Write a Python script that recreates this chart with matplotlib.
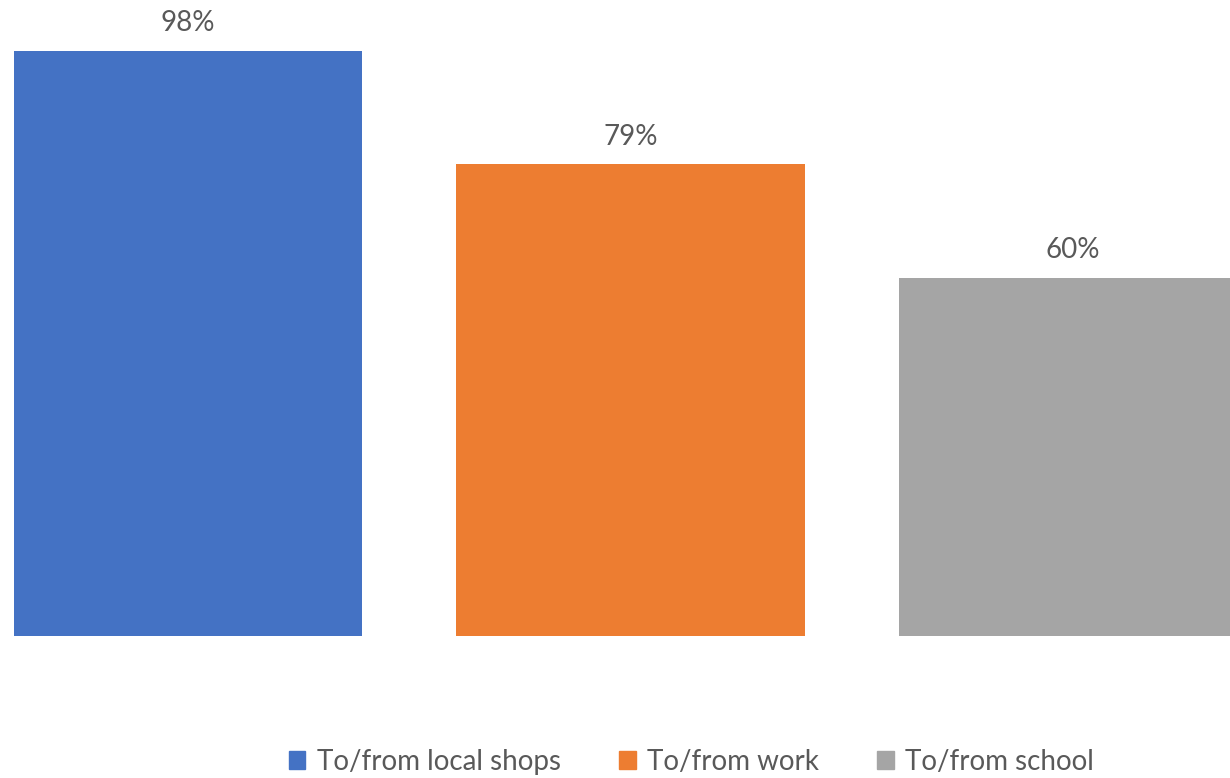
import numpy as np
import matplotlib.pyplot as plt
from matplotlib.patches import Patch

categories = ["To/from local shops", "To/from work", "To/from school"]
values = [98, 79, 60]
labels = ["98%", "79%", "60%"]
colors = ["#4472C4", "#ED7D31", "#A5A5A5"]

plt.rcParams['font.family'] = ['Lato', 'DejaVu Sans']
txt = "#595959"

fig = plt.figure(figsize=(12.30, 7.78), dpi=100)
ax = fig.add_axes([0, 0.1825, 1, 0.8175])
x = np.arange(len(values))
ax.bar(x, values, width=0.787, color=colors)
for xi, v, lab in zip(x, values, labels):
    ax.text(xi, v + 4.6, lab, ha="center", va="center", fontsize=20, color=txt)

ax.set_xlim(-0.425, 2.355)
ax.set_ylim(0, 106.5)
ax.axis("off")

handles = [Patch(color=c, label=l) for c, l in zip(colors, categories)]
fig.legend(handles=handles, loc="center", bbox_to_anchor=(0.562, 0.021), ncol=3,
           frameon=False, fontsize=20, labelcolor=txt, handlelength=0.6,
           handleheight=0.6, handletextpad=0.4, columnspacing=2.1)

fig.savefig("out.png")
